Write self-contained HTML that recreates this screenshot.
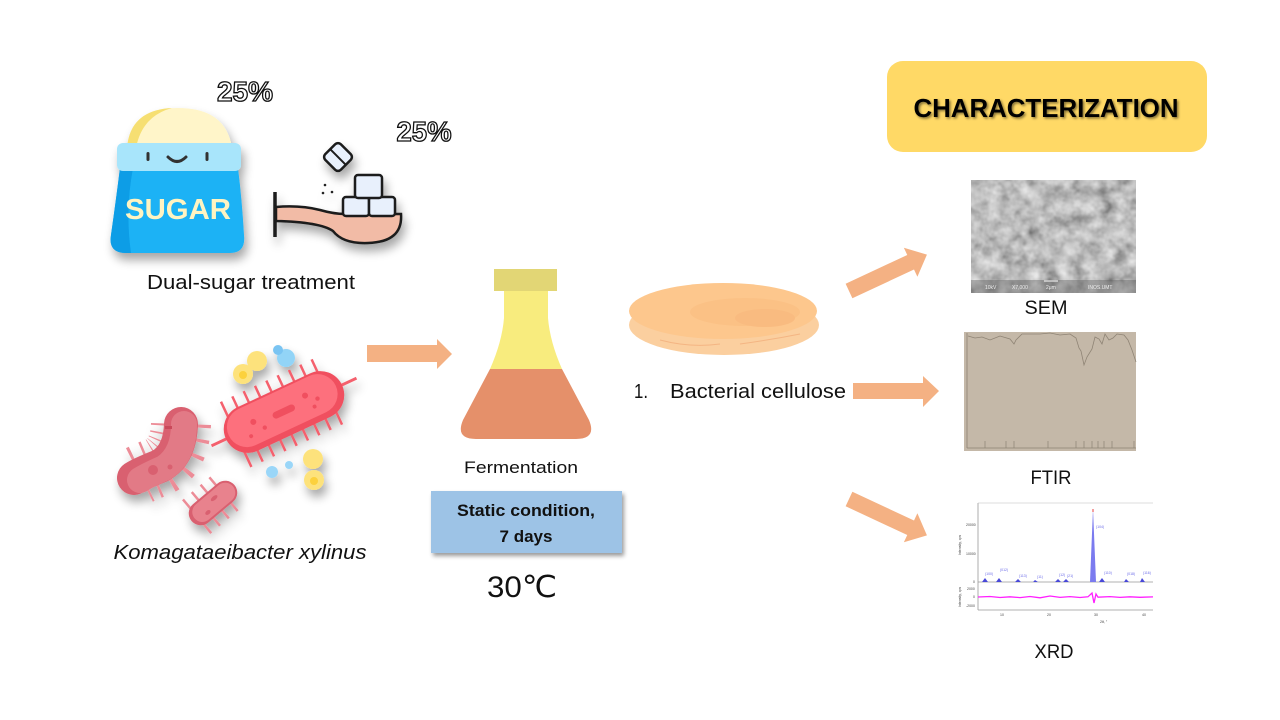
<!DOCTYPE html>
<html><head><meta charset="utf-8"><style>
html,body{margin:0;padding:0;background:#fff;}
svg{display:block;}
text{font-family:"Liberation Sans",sans-serif;}
</style></head><body>
<svg width="1280" height="720" viewBox="0 0 1280 720" xmlns="http://www.w3.org/2000/svg">
<defs>
  <filter id="sh" x="-30%" y="-30%" width="160%" height="170%">
    <feGaussianBlur in="SourceAlpha" stdDeviation="5"/>
    <feOffset dx="3" dy="7" result="b"/>
    <feComponentTransfer in="b" result="c"><feFuncA type="linear" slope="0.35"/></feComponentTransfer>
    <feMerge><feMergeNode in="c"/><feMergeNode in="SourceGraphic"/></feMerge>
  </filter>
  <filter id="shs" x="-10%" y="-10%" width="130%" height="140%">
    <feGaussianBlur in="SourceAlpha" stdDeviation="2"/>
    <feOffset dx="2" dy="3" result="b"/>
    <feComponentTransfer in="b" result="c"><feFuncA type="linear" slope="0.4"/></feComponentTransfer>
    <feMerge><feMergeNode in="c"/><feMergeNode in="SourceGraphic"/></feMerge>
  </filter>
  <filter id="tsh" x="-5%" y="-20%" width="110%" height="150%">
    <feGaussianBlur in="SourceAlpha" stdDeviation="1.2"/>
    <feOffset dx="1.5" dy="1.5" result="b"/>
    <feComponentTransfer in="b" result="c"><feFuncA type="linear" slope="0.5"/></feComponentTransfer>
    <feMerge><feMergeNode in="c"/><feMergeNode in="SourceGraphic"/></feMerge>
  </filter>
  <filter id="noise" x="0" y="0" width="100%" height="100%">
    <feTurbulence type="fractalNoise" baseFrequency="0.07" numOctaves="3" seed="4"/>
    <feColorMatrix type="matrix" values="0.45 0.45 0.45 0 -0.17  0.45 0.45 0.45 0 -0.17  0.45 0.45 0.45 0 -0.17  0 0 0 0 1"/>
  </filter>
  <clipPath id="flaskclip"><path d="M504,291 L548,291 L548,318 Q550,342 562,369 L589,420 Q597,439 576,439 L476,439 Q455,439 463,420 L490,369 Q502,342 504,318 Z"/></clipPath>
</defs>

<!-- 25% labels -->
<text x="245" y="101" font-size="28" font-weight="bold" fill="#fff" stroke="#111" stroke-width="1.3" text-anchor="middle" textLength="56" lengthAdjust="spacingAndGlyphs">25%</text>
<text x="424" y="141" font-size="28" font-weight="bold" fill="#fff" stroke="#111" stroke-width="1.3" text-anchor="middle" textLength="55" lengthAdjust="spacingAndGlyphs">25%</text>

<!-- Sugar bag -->
<g filter="url(#sh)">
  <path d="M127,148 Q130,108 178,108 Q226,108 232,148 Z" fill="#fff5c9"/>
  <path d="M127,148 Q130,110 172,108 Q142,116 136,148 Z" fill="#f6df72"/>
  <path d="M120,168 L238,168 Q242,200 244,235 Q246,253 230,253 L126,253 Q108,253 111,235 Q116,200 120,168 Z" fill="#1cb2f5"/>
  <path d="M120,168 L133,168 Q125,210 131,253 L126,253 Q108,253 111,235 Q116,200 120,168 Z" fill="#0c9de6"/>
  <rect x="117" y="143" width="124" height="28" rx="6" fill="#a8e5fb"/>
  <rect x="146.5" y="152" width="3" height="9" rx="1.5" fill="#333"/>
  <rect x="205.5" y="152" width="3" height="9" rx="1.5" fill="#333"/>
  <path d="M168,157 Q177,166 186,157" stroke="#333" stroke-width="3" fill="none" stroke-linecap="round"/>
  <text x="178" y="219" font-size="29" font-weight="bold" fill="#fff4c2" text-anchor="middle" textLength="106" lengthAdjust="spacingAndGlyphs">SUGAR</text>
</g>

<!-- Spoon with cubes -->
<g filter="url(#sh)">
  <line x1="275" y1="192" x2="275" y2="237" stroke="#1a1a1a" stroke-width="3.5"/>
  <path d="M276,207 Q300,205 320,210 Q334,214 345,214 L401,214 Q403,242 368,243 Q343,244 333,231 Q320,222 276,221 Z" fill="#f2bba6" stroke="#1a1a1a" stroke-width="2.5"/>
  <rect x="343" y="197" width="26" height="19" rx="3" fill="#e8f0fc" stroke="#1a1a1a" stroke-width="2.5"/>
  <rect x="369" y="197" width="26" height="19" rx="3" fill="#e8f0fc" stroke="#1a1a1a" stroke-width="2.5"/>
  <rect x="355" y="175" width="27" height="23" rx="3" fill="#e8f0fc" stroke="#1a1a1a" stroke-width="2.5"/>
  <g transform="translate(338,157) rotate(45)">
    <rect x="-11" y="-11" width="22" height="22" rx="4" fill="#e8f0fc" stroke="#1a1a1a" stroke-width="2.5"/>
    <line x1="-11" y1="0" x2="11" y2="0" stroke="#1a1a1a" stroke-width="2"/>
  </g>
  <circle cx="325" cy="185" r="1.3" fill="#222"/>
  <circle cx="332" cy="192" r="1.3" fill="#222"/>
  <circle cx="323" cy="193" r="1.3" fill="#222"/>
</g>

<text x="251" y="289" font-size="20" fill="#111" text-anchor="middle" textLength="208" lengthAdjust="spacingAndGlyphs">Dual-sugar treatment</text>

<!-- Bacteria -->
<g filter="url(#sh)">
  <path d="M181,424 Q180,455 160,466 Q140,474 134,478" stroke="#ec8c97" stroke-width="60" stroke-dasharray="2.5 9" fill="none"/>
  <path d="M181,424 Q180,455 160,466 Q140,474 134,478" stroke="#d9606f" stroke-width="34" stroke-linecap="round" fill="none"/>
  <path d="M184,424 Q184,455 164,468 Q146,476 140,480" stroke="#e27a86" stroke-width="26" stroke-linecap="round" fill="none"/>
  <circle cx="153" cy="470" r="5" fill="#d9606f"/>
  <circle cx="170" cy="467" r="2.5" fill="#d9606f"/>
  <rect x="165" y="426" width="7" height="3" fill="#c94a5a"/>
  <g transform="translate(213,503) rotate(-40)">
    <line x1="-22" y1="0" x2="22" y2="0" stroke="#ec8c97" stroke-width="44" stroke-dasharray="2.5 9"/>
    <rect x="-28" y="-12" width="56" height="24" rx="12" fill="#d9606f"/>
    <rect x="-24" y="-10" width="50" height="20" rx="10" fill="#e8828d"/>
    <ellipse cx="4" cy="-3" rx="4" ry="2" fill="#d9606f"/>
    <ellipse cx="-10" cy="4" rx="3" ry="2" fill="#d9606f"/>
  </g>
  <g transform="translate(284,412) rotate(-25)">
    <line x1="-54" y1="0" x2="54" y2="0" stroke="#f4606d" stroke-width="72" stroke-dasharray="2.5 10"/>
    <line x1="-80" y1="0" x2="80" y2="0" stroke="#f4606d" stroke-width="3"/>
    <rect x="-64" y="-24" width="128" height="48" rx="24" fill="#f0505f"/>
    <rect x="-60" y="-22" width="118" height="40" rx="20" fill="#fd6f7d"/>
    <rect x="-12" y="-4" width="24" height="7" rx="3.5" fill="#f0505f"/>
    <circle cx="-32" cy="-4" r="3" fill="#f0505f"/>
    <circle cx="-24" cy="6" r="2.2" fill="#f0505f"/>
    <circle cx="-40" cy="8" r="2" fill="#f0505f"/>
    <circle cx="26" cy="-6" r="3" fill="#f0505f"/>
    <circle cx="36" cy="2" r="2.2" fill="#f0505f"/>
    <circle cx="30" cy="8" r="2" fill="#f0505f"/>
  </g>
  <circle cx="243" cy="374" r="10" fill="#fde27c"/>
  <circle cx="257" cy="361" r="10" fill="#fde27c"/>
  <circle cx="243" cy="375" r="4" fill="#fcd13c"/>
  <circle cx="313" cy="459" r="10" fill="#fde27c"/>
  <circle cx="314" cy="480" r="10" fill="#fde27c"/>
  <circle cx="314" cy="481" r="4" fill="#fcd13c"/>
  <circle cx="286" cy="358" r="9" fill="#92d4f7"/>
  <circle cx="278" cy="350" r="5" fill="#7ac4f2"/>
  <circle cx="272" cy="472" r="6" fill="#9ad6f8"/>
  <circle cx="289" cy="465" r="4" fill="#9ad6f8"/>
</g>

<text x="240" y="559" font-size="20" font-style="italic" fill="#111" text-anchor="middle" textLength="253" lengthAdjust="spacingAndGlyphs">Komagataeibacter xylinus</text>

<!-- arrow to flask -->
<path d="M367,345 L437,345 L437,339 L452,354 L437,369 L437,362 L367,362 Z" fill="#f4b183"/>

<!-- Flask -->
<rect x="494" y="269" width="63" height="22" fill="#e2d675"/>
<g clip-path="url(#flaskclip)">
  <rect x="450" y="285" width="160" height="84" fill="#f8ec7e"/>
  <rect x="450" y="369" width="160" height="80" fill="#e5906a"/>
</g>
<text x="521" y="473" font-size="17" fill="#111" text-anchor="middle" textLength="114" lengthAdjust="spacingAndGlyphs">Fermentation</text>

<rect x="431" y="491" width="191" height="62" fill="#9dc3e6" filter="url(#shs)"/>
<text x="526" y="516" font-size="17" font-weight="bold" fill="#111" text-anchor="middle" textLength="138" lengthAdjust="spacingAndGlyphs">Static condition,</text>
<text x="526" y="542" font-size="17" font-weight="bold" fill="#111" text-anchor="middle" textLength="53" lengthAdjust="spacingAndGlyphs">7 days</text>
<text x="522" y="597" font-size="30" fill="#111" text-anchor="middle" textLength="70" lengthAdjust="spacingAndGlyphs">30℃</text>

<!-- Bacterial cellulose disc -->
<ellipse cx="724" cy="325" rx="95" ry="30" fill="#fbcf9f"/>
<path d="M660,340 Q690,348 720,344" stroke="#f4b583" stroke-width="1" fill="none"/>
<path d="M740,344 Q770,340 800,334" stroke="#f4b583" stroke-width="1" fill="none"/>
<ellipse cx="723" cy="311" rx="94" ry="28" fill="#fdc78d"/>
<ellipse cx="745" cy="312" rx="55" ry="14" fill="#fbc185"/>
<ellipse cx="765" cy="318" rx="30" ry="9" fill="#f9bb80"/>

<text x="634" y="398" font-size="20" fill="#111" textLength="14" lengthAdjust="spacingAndGlyphs">1.</text>
<text x="670" y="398" font-size="20" fill="#111" textLength="176" lengthAdjust="spacingAndGlyphs">Bacterial cellulose</text>

<!-- arrows to characterization -->
<g transform="translate(849,291) rotate(-25)">
  <path d="M0,-8 L68,-8 L68,-16 L86,0 L68,16 L68,8 L0,8 Z" fill="#f4b183"/>
</g>
<path d="M853,383 L923,383 L923,376 L939,391 L923,407 L923,399 L853,399 Z" fill="#f4b183"/>
<g transform="translate(849,499) rotate(25)">
  <path d="M0,-8 L68,-8 L68,-16 L86,0 L68,16 L68,8 L0,8 Z" fill="#f4b183"/>
</g>

<!-- CHARACTERIZATION -->
<rect x="887" y="61" width="320" height="91" rx="16" fill="#ffd966"/>
<text x="1046" y="117" font-size="26" font-weight="bold" fill="#000" text-anchor="middle" textLength="265" lengthAdjust="spacingAndGlyphs" filter="url(#tsh)">CHARACTERIZATION</text>

<!-- SEM -->
<rect x="971" y="180" width="165" height="113" fill="#888" filter="url(#noise)"/>
<rect x="971" y="280" width="165" height="13" fill="#5a5a5a" opacity="0.4"/>
<line x1="1044" y1="281" x2="1058" y2="281" stroke="#fff" stroke-width="1"/>
<text x="985" y="289" font-size="5" fill="#eee">10kV</text>
<text x="1012" y="289" font-size="5" fill="#eee">X7,000</text>
<text x="1046" y="289" font-size="5" fill="#eee">2μm</text>
<text x="1088" y="289" font-size="5" fill="#eee">INOS.UMT</text>
<text x="1046" y="314" font-size="19" fill="#111" text-anchor="middle" textLength="43" lengthAdjust="spacingAndGlyphs">SEM</text>

<!-- FTIR -->
<rect x="964" y="332" width="172" height="119" fill="#c4b8a8"/>
<line x1="967" y1="333" x2="967" y2="448" stroke="#8c8273" stroke-width="0.8"/>
<line x1="967" y1="448" x2="1136" y2="448" stroke="#8c8273" stroke-width="0.8"/>
<polyline points="968,336 975,338 982,337 990,340 1000,336 1010,339 1014,344 1016,340 1022,334 1040,334 1050,333 1060,335 1070,334 1076,338 1079,348 1081,351 1084,365 1087,357 1092,349 1095,337 1099,339 1102,344 1105,334 1109,340 1113,338 1117,334 1124,335 1128,340 1132,350 1136,362" fill="none" stroke="#8f8475" stroke-width="0.8"/>
<g stroke="#8c8273" stroke-width="0.7">
  <line x1="985" y1="441" x2="985" y2="448"/><line x1="1006" y1="441" x2="1006" y2="448"/><line x1="1014" y1="441" x2="1014" y2="448"/>
  <line x1="1048" y1="441" x2="1048" y2="448"/><line x1="1076" y1="441" x2="1076" y2="448"/><line x1="1084" y1="441" x2="1084" y2="448"/>
  <line x1="1092" y1="441" x2="1092" y2="448"/><line x1="1098" y1="441" x2="1098" y2="448"/><line x1="1104" y1="441" x2="1104" y2="448"/>
  <line x1="1112" y1="441" x2="1112" y2="448"/><line x1="1134" y1="441" x2="1134" y2="448"/>
</g>
<text x="1051" y="484" font-size="19" fill="#111" text-anchor="middle" textLength="41" lengthAdjust="spacingAndGlyphs">FTIR</text>

<!-- XRD -->
<g>
  <line x1="978" y1="503" x2="978" y2="610" stroke="#999" stroke-width="0.8"/>
  <line x1="978" y1="503" x2="1153" y2="503" stroke="#bbb" stroke-width="0.6"/>
  <line x1="978" y1="582" x2="1153" y2="582" stroke="#999" stroke-width="0.8"/>
  <line x1="978" y1="610" x2="1153" y2="610" stroke="#999" stroke-width="0.8"/>
  <polygon points="1090,582 1093,509 1096,582" fill="#7b7bef"/>
  <line x1="1093" y1="509" x2="1093" y2="512" stroke="#f08080" stroke-width="1.5"/>
  <g fill="#4848d8">
    <polygon points="982,582 985,578 988,582"/><polygon points="996,582 999,578 1002,582"/>
    <polygon points="1015,582 1018,579 1021,582"/><polygon points="1033,582 1035,580 1038,582"/>
    <polygon points="1055,582 1058,579 1061,582"/><polygon points="1063,582 1066,579 1069,582"/>
    <polygon points="1099,582 1102,578 1105,582"/><polygon points="1124,582 1126,579 1129,582"/>
    <polygon points="1140,582 1142,578 1145,582"/>
  </g>
  <g font-size="3.5" fill="#6b6be8">
    <text x="985" y="575">(100)</text><text x="1000" y="571">(012)</text><text x="1019" y="577">(113)</text>
    <text x="1037" y="578">(11)</text><text x="1059" y="576">(12)</text><text x="1067" y="577">(21)</text>
    <text x="1096" y="528">(104)</text><text x="1104" y="574">(110)</text><text x="1127" y="575">(018)</text><text x="1143" y="574">(116)</text>
  </g>
  <polyline points="978,597 990,596.5 1000,597.5 1010,596.8 1020,597.6 1030,596.5 1040,597.8 1050,596 1060,597.4 1070,596.6 1080,597.5 1088,596.8 1092,593 1094,603 1096,594 1098,597.2 1110,596.6 1120,597.4 1130,596.8 1140,597.3 1153,596.9" fill="none" stroke="#ff1fff" stroke-width="1.3"/>
  <g font-size="3.5" fill="#444">
    <text x="966" y="526">20000</text><text x="966" y="555">10000</text><text x="973" y="583">0</text>
    <text x="967" y="590">2000</text><text x="973" y="598">0</text><text x="966" y="607">-2000</text>
    <text x="1000" y="616">10</text><text x="1047" y="616">20</text><text x="1094" y="616">30</text><text x="1142" y="616">40</text>
    <text x="1100" y="623">2θ, °</text>
    <text x="961" y="555" transform="rotate(-90 961 555)">Intensity, cps</text>
    <text x="961" y="607" transform="rotate(-90 961 607)">Intensity, cps</text>
  </g>
</g>
<text x="1054" y="658" font-size="19" fill="#111" text-anchor="middle" textLength="39" lengthAdjust="spacingAndGlyphs">XRD</text>
</svg>
</body></html>
